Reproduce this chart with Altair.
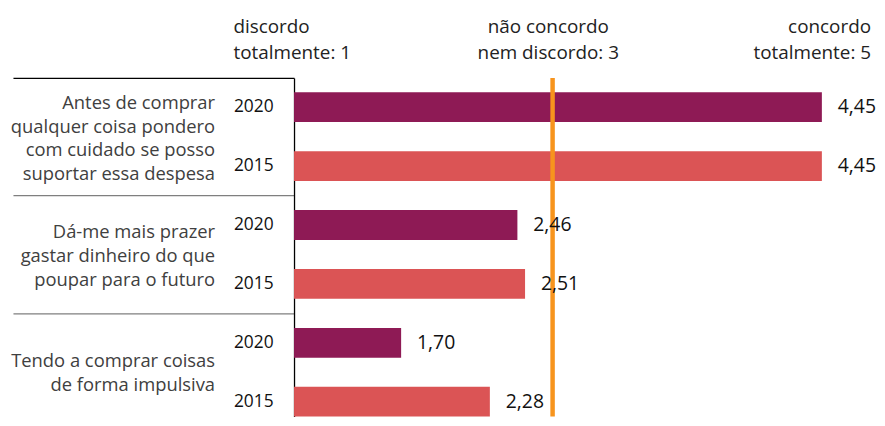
import altair as alt
import pandas as pd

# ---- data ----
categories = [
    "Antes de comprar|qualquer coisa pondero|com cuidado se posso|suportar essa despesa",
    "Dá-me mais prazer|gastar dinheiro do que|poupar para o futuro",
    "Tendo a comprar coisas|de forma impulsiva",
]
years = ["2020", "2015"]
values_2020 = [4.45, 2.46, 1.70]
values_2015 = [4.45, 2.51, 2.28]
scale_min = 1
scale_max = 4.7
neutral_line = 2.69
header_left = ["discordo", "totalmente: 1"]
header_mid = ["não concordo", "nem discordo: 3"]
header_right = ["concordo", "totalmente: 5"]
year_colors = ["#8E1A55", "#DB5455"]

rows = []
for i, cat in enumerate(categories):
    for yr, vals in zip(years, [values_2020, values_2015]):
        rows.append({"key": f"{cat}#{yr}", "year": yr, "value": vals[i]})
df = pd.DataFrame(rows)
keys = list(df["key"])

FONT = "Open Sans"

yscale = alt.Scale(domain=keys, paddingInner=0.494, paddingOuter=0.122, align=1)
xscale = alt.Scale(domain=[scale_min, scale_max], nice=False, zero=False)

axis_years = alt.Axis(
    orient="left", title=None, grid=False, ticks=False, tickSize=0,
    labelExpr="split(datum.value, '#')[1]",
    labelAlign="left", labelBaseline="middle", labelPadding=61,
    labelFont=FONT, labelFontSize=17.5, labelColor="#111111",
    labelOverlap=False, domain=True, domainColor="#000000", domainWidth=1.3,
)
axis_cats = alt.Axis(
    orient="left", title=None, grid=False, ticks=False, tickSize=0, domain=False,
    labelExpr="split(datum.value, '#')[1] == '2020' ? split(split(datum.value, '#')[0], '|') : ''",
    labelAlign="right", labelBaseline="middle", labelPadding=80,
    labelOffset={
        "condition": [
            {"test": "indexof(datum.value, 'Antes') == 0", "value": -4.5},
            {"test": "indexof(datum.value, 'Dá-me') == 0", "value": 7},
        ],
        "value": 18.5,
    },
    labelLineHeight=24, labelLimit=320,
    labelFont=FONT, labelFontSize=18.5, labelColor="#404040", labelOverlap=False,
)
axis_seps = alt.Axis(
    orient="left", title=None, grid=False, labels=False, domain=False,
    ticks=True, tickSize=283, tickOffset=-29.65, tickWidth=1.3,
    tickOpacity={"condition": {"test": "split(datum.value, '#')[1] == '2020'", "value": 1}, "value": 0},
    tickColor={"condition": {"test": "indexof(datum.value, 'Antes') == 0", "value": "#000000"}, "value": "#7f7f7f"},
)

base = alt.Chart(df)

bars = base.mark_bar().encode(
    y=alt.Y("key:N", scale=yscale, axis=axis_years),
    x=alt.X("value:Q", scale=xscale, axis=None),
    x2=alt.datum(scale_min),
    color=alt.Color("year:N", scale=alt.Scale(domain=years, range=year_colors), legend=None),
)

value_labels = base.transform_calculate(
    label="replace(format(datum.value, '.2f'), '.', ',')"
).mark_text(align="left", baseline="middle", dx=16, font=FONT, fontSize=19.5, color="#111111").encode(
    y=alt.Y("key:N", scale=yscale, axis=axis_cats),
    x=alt.X("value:Q", scale=xscale, axis=None),
    text="label:N",
)

separators = base.mark_text(opacity=0, text="").encode(
    y=alt.Y("key:N", scale=yscale, axis=axis_seps),
)

neutral = alt.Chart(pd.DataFrame({"v": [neutral_line]})).mark_rule(
    color="#F7941D", strokeWidth=4.5
).encode(x=alt.X("v:Q", scale=xscale, axis=None))

one = pd.DataFrame({"o": [0]})
hdr_style = dict(baseline="middle", font=FONT, fontSize=19, color="#222222", lineHeight=26)
h_left = alt.Chart(one).mark_text(align="left", **hdr_style).encode(
    x=alt.value(-61), y=alt.value(-51), text=alt.value(header_left))
h_mid = alt.Chart(one).mark_text(align="center", **hdr_style).encode(
    x=alt.value(256), y=alt.value(-51), text=alt.value(header_mid))
h_right = alt.Chart(one).mark_text(align="right", **hdr_style).encode(
    x=alt.value(581), y=alt.value(-51), text=alt.value(header_right))

chart = alt.layer(
    separators, bars, neutral, value_labels, h_left, h_mid, h_right
).resolve_axis(y="independent").properties(
    width=570, height=341,
    background="white",
    autosize=alt.AutoSizeParams(type="none"),
    padding={"left": 288, "top": 69, "right": 17, "bottom": 0},
).configure_view(strokeWidth=0, stroke=None)

chart.save("out.html", embed_options={"renderer": "svg", "actions": False})
